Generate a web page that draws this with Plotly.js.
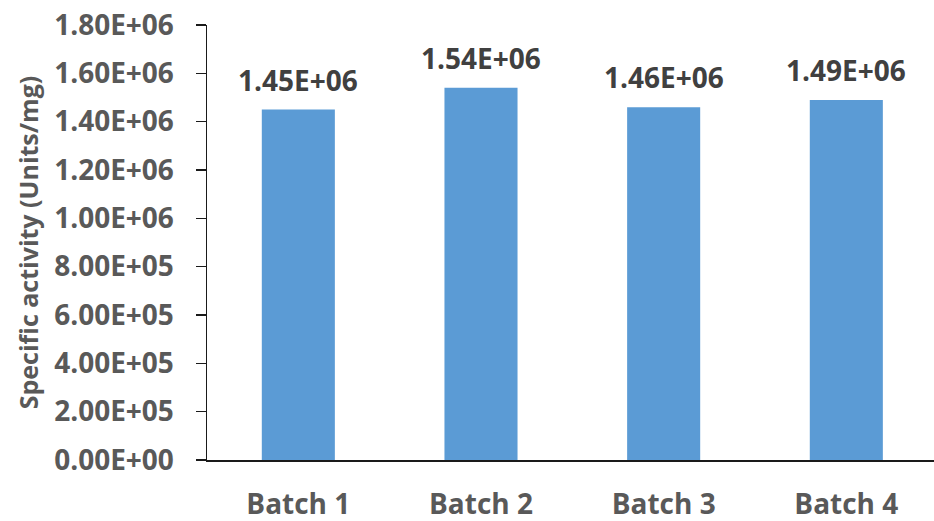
<!DOCTYPE html>
<html>
<head>
<meta charset="utf-8">
<script src="https://cdn.plot.ly/plotly-3.0.1.min.js"></script>
<style>html,body{margin:0;padding:0;background:#fff;}#chart{width:934px;height:521px;}</style>
</head>
<body>
<div id="chart"></div>
<script>
const categories = ["Batch 1", "Batch 2", "Batch 3", "Batch 4"];
const activity = [1.45e6, 1.54e6, 1.46e6, 1.49e6];
const valueLabels = ["1.45E+06", "1.54E+06", "1.46E+06", "1.49E+06"];
const yTickVals = [0, 2e5, 4e5, 6e5, 8e5, 1e6, 1.2e6, 1.4e6, 1.6e6, 1.8e6];
const yTickText = ["0.00E+00", "2.00E+05", "4.00E+05", "6.00E+05", "8.00E+05",
                   "1.00E+06", "1.20E+06", "1.40E+06", "1.60E+06", "1.80E+06"];

const FONT = "Open Sans, DejaVu Sans, sans-serif";

const trace = {
  type: "bar",
  x: categories,
  y: activity,
  width: 0.4,
  marker: {color: "#5B9BD5"},
  hoverinfo: "skip",
  cliponaxis: false
};

const annotations = categories.map((c, i) => ({
  x: c, y: activity[i], xref: "x", yref: "y",
  text: valueLabels[i], showarrow: false,
  yanchor: "middle", yshift: 30,
  font: {family: FONT, size: 28, color: "#404040", weight: "bold"}
}));

const layout = {
  width: 934, height: 521,
  margin: {l: 207, r: 0, t: 25, b: 61},
  paper_bgcolor: "#ffffff", plot_bgcolor: "#ffffff",
  showlegend: false,
  xaxis: {
    type: "category",
    range: [-0.5, 3.48],
    showline: true, linecolor: "#1a1a1a", linewidth: 1.5,
    ticks: "", showgrid: false, zeroline: false,
    tickfont: {family: FONT, size: 28, color: "#595959", weight: "bold"},
    ticklabelstandoff: 19,
    fixedrange: true
  },
  yaxis: {
    range: [0, 1.8e6],
    tickmode: "array", tickvals: yTickVals, ticktext: yTickText,
    showline: true, linecolor: "#1a1a1a", linewidth: 1.5,
    ticks: "outside", ticklen: 10, tickwidth: 1.5, tickcolor: "#1a1a1a",
    showgrid: false, zeroline: false,
    tickfont: {family: FONT, size: 28, color: "#595959", weight: "bold"},
    ticklabelstandoff: 16,
    title: {text: "Specific activity (Units/mg)", standoff: 8,
            font: {family: FONT, size: 25, color: "#595959", weight: "bold"}},
    fixedrange: true
  },
  annotations: annotations
};

Plotly.newPlot("chart", [trace], layout, {displayModeBar: false, staticPlot: true});
</script>
</body>
</html>
